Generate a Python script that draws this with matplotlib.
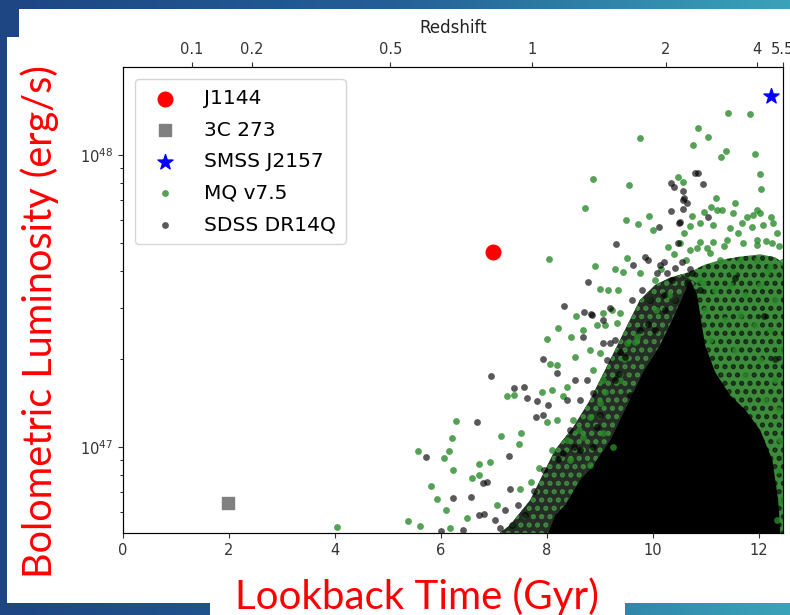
import numpy as np
import matplotlib.pyplot as plt
from matplotlib.colors import LinearSegmentedColormap
from matplotlib.patches import Rectangle

# single objects: (lookback time [Gyr], log10 L_bol [erg/s])
j1144 = (6.98, 47.668)
c273 = (1.98, 46.808)
smss = (12.23, 48.202)

# MQ v7.5, scattered points
mq_t = [4.04, 5.38, 5.60, 5.57, 5.81, 5.92, 6.09, 6.17, 6.06, 6.15,
        6.21, 6.28, 6.23, 6.49, 6.58, 6.72, 6.72, 6.92, 7.13, 7.47,
        7.51, 7.25, 7.38, 7.91, 8.09, 8.30, 8.00, 8.19, 8.06, 8.19,
        8.00, 8.21, 8.45, 8.04, 8.55, 9.06, 9.23, 9.38, 8.68, 8.94,
        8.53, 8.81, 9.00, 8.38, 8.87, 9.06, 9.38, 8.49, 9.00, 8.81,
        8.38, 8.68, 9.06, 8.43, 8.81, 9.25, 11.42, 11.83, 10.85, 11.04,
        9.75, 10.75, 11.38, 11.28, 11.92, 8.87, 9.55, 12.02, 12.04, 8.72,
        10.47, 10.57, 11.19, 9.92, 9.49, 9.72, 10.00, 10.74, 10.96, 11.09,
        11.30, 11.55, 11.51, 11.89, 12.02, 12.23, 10.58, 10.70, 10.89, 11.13,
        11.45, 11.68, 11.87, 12.08, 12.26, 8.91, 9.28, 9.43, 9.00, 9.34,
        10.28, 10.89, 11.13, 11.40, 11.60, 11.96, 12.25, 12.43, 10.83, 11.08,
        11.26, 11.64, 11.96, 12.21, 9.51, 9.75, 10.04, 10.51, 10.70, 11.21,
        11.77, 11.96, 11.96, 12.34, 9.15, 9.09, 9.32, 9.51, 9.70, 10.89,
        11.17, 11.45, 11.74, 12.02, 12.30, 10.98, 11.36, 11.64, 11.92, 12.21,
        12.40, 11.08, 11.55, 12.02, 12.30, 11.74, 12.36, 12.11, 12.40, 12.36,
        12.42, 12.34, 7.06, 7.49, 10.15, 10.40, 10.62, 11.02, 11.33, 11.70,
        12.13, 12.38, 10.30, 10.95, 11.50, 12.15, 7.70, 7.85, 8.10, 8.60,
        9.10, 9.45, 9.65, 10.05]
mq_logL = [46.727, 46.747, 46.729, 46.986, 46.866, 46.822, 46.784, 46.723, 46.962, 46.986,
           47.031, 47.089, 46.921, 46.757, 46.894, 46.904, 46.942, 46.949, 47.038, 47.010,
           47.048, 47.175, 47.178, 47.188, 47.195, 47.175, 47.086, 47.092, 47.284, 47.281,
           47.370, 47.408, 47.377, 47.644, 47.449, 47.459, 47.469, 47.459, 47.401, 47.418,
           47.308, 47.332, 47.322, 47.205, 47.264, 47.229, 47.229, 47.092, 47.151, 47.103,
           47.024, 47.034, 47.048, 46.955, 46.938, 47.000, 48.144, 48.140, 48.092, 48.062,
           48.058, 48.034, 48.014, 47.993, 48.003, 47.918, 47.897, 47.935, 47.884, 47.818,
           47.925, 47.908, 47.853, 47.791, 47.777, 47.764, 47.743, 47.791, 47.805, 47.822,
           47.812, 47.836, 47.801, 47.794, 47.801, 47.788, 47.733, 47.757, 47.767, 47.760,
           47.750, 47.767, 47.753, 47.760, 47.767, 47.620, 47.610, 47.599, 47.541, 47.538,
           47.685, 47.702, 47.702, 47.709, 47.733, 47.692, 47.699, 47.634, 47.682, 47.664,
           47.640, 47.640, 47.640, 47.616, 47.647, 47.596, 47.572, 47.699, 47.675, 47.812,
           47.788, 47.812, 47.709, 47.733, 47.538, 47.418, 47.425, 47.356, 47.377, 47.572,
           47.538, 47.555, 47.521, 47.555, 47.503, 47.469, 47.435, 47.452, 47.418, 47.401,
           47.332, 47.366, 47.332, 47.298, 47.229, 47.247, 47.127, 47.161, 47.024, 46.921,
           46.818, 46.750, 46.801, 46.856, 47.610, 47.660, 47.640, 47.680, 47.690, 47.700,
           47.705, 47.690, 47.520, 47.560, 47.600, 47.600, 46.880, 46.930, 46.990, 47.060,
           47.190, 47.300, 47.360, 47.470]

# SDSS DR14Q, scattered points
sdss_t = [8.32, 7.92, 8.19, 6.94, 7.38, 7.57, 7.62, 7.81, 8.02, 6.68,
          5.72, 7.79, 7.92, 7.28, 6.79, 6.87, 6.23, 6.57, 6.72, 6.81,
          6.42, 6.00, 10.79, 10.85, 10.34, 10.40, 10.57, 10.58, 10.64, 10.94,
          10.34, 10.57, 11.04, 10.11, 10.49, 9.30, 8.77, 9.85, 9.91, 10.21,
          10.13, 10.47, 10.55, 10.26, 10.42, 10.74, 10.64, 10.89, 8.70, 8.83,
          9.06, 8.68, 9.06, 9.19, 9.13, 9.38, 8.53, 8.75, 8.38, 8.62,
          8.87, 8.43, 8.94, 8.30, 8.62, 8.87, 10.57, 10.51, 9.62, 9.19,
          8.85, 9.60, 9.79, 9.28, 10.08, 10.36, 9.94, 10.23, 10.04, 10.42,
          9.75, 9.47, 9.28, 9.57, 7.02, 7.11, 7.21, 7.34, 7.45, 7.58,
          7.30, 7.75, 7.95, 8.20, 8.50, 9.00, 9.35, 9.90, 10.20, 10.70,
          11.55, 12.10, 12.30]
sdss_logL = [47.483, 47.301, 47.253, 47.243, 47.202, 47.205, 47.168, 47.157, 47.144, 47.086,
             46.966, 47.103, 47.110, 46.969, 46.877, 46.880, 46.825, 46.829, 46.767, 46.771,
             46.716, 46.713, 47.938, 47.938, 47.904, 47.890, 47.877, 47.853, 47.836, 47.901,
             47.808, 47.815, 47.788, 47.753, 47.767, 47.695, 47.565, 47.651, 47.640, 47.634,
             47.623, 47.699, 47.634, 47.596, 47.613, 47.596, 47.562, 47.538, 47.462, 47.455,
             47.435, 47.377, 47.356, 47.356, 47.298, 47.325, 47.229, 47.229, 47.161, 47.161,
             47.185, 47.058, 47.068, 46.979, 46.990, 47.000, 47.846, 47.771, 47.623, 47.476,
             47.452, 47.503, 47.538, 47.366, 47.596, 47.572, 47.503, 47.469, 47.401, 47.503,
             47.401, 47.308, 47.229, 47.178, 46.750, 46.723, 46.784, 46.733, 46.801, 46.767,
             46.856, 46.850, 46.920, 46.960, 47.000, 47.110, 47.250, 47.420, 47.520, 47.610,
             47.580, 47.450, 47.300]

# outline of the crowded region (mixed MQ + SDSS), of its darker left part,
# and of the saturated black core
halo_t = [7.11, 7.30, 7.68, 8.15, 8.50, 8.81, 9.19, 9.47, 9.75, 10.04,
          10.32, 10.70, 10.98, 11.26, 11.64, 12.02, 12.30, 12.45, 12.45]
halo_logL = [46.706, 46.733, 46.818, 46.990, 47.070, 47.161, 47.298, 47.401, 47.503, 47.555,
             47.580, 47.600, 47.625, 47.640, 47.652, 47.660, 47.650, 47.630, 46.706]
mix_t = [7.11, 7.30, 7.68, 8.15, 8.50, 8.81, 9.19, 9.47, 9.75, 10.04,
         10.32, 10.55, 10.83, 10.57, 10.36, 10.13, 9.81, 9.51, 9.19, 8.87,
         8.62, 8.34, 8.15, 8.02]
mix_logL = [46.706, 46.733, 46.818, 46.990, 47.070, 47.161, 47.298, 47.401, 47.503, 47.555,
            47.580, 47.590, 47.560, 47.521, 47.435, 47.349, 47.257, 47.144, 47.024, 46.938,
            46.887, 46.801, 46.767, 46.706]
core_t = [8.02, 8.15, 8.34, 8.62, 8.87, 9.19, 9.51, 9.81, 10.13, 10.36,
          10.57, 10.70, 10.83, 10.98, 11.17, 11.45, 11.74, 12.02, 12.25, 12.36, 12.40]
core_logL = [46.706, 46.767, 46.801, 46.887, 46.938, 47.024, 47.144, 47.257, 47.349, 47.435,
             47.521, 47.572, 47.521, 47.349, 47.257, 47.178, 47.127, 47.058, 46.955, 46.818, 46.706]

z_ticks = [0.1, 0.2, 0.5, 1, 2, 4, 5.5]
z_labels = ['0.1', '0.2', '0.5', '1', '2', '4', '5.5']


def lookback(z, H0=70.0, om=0.3):
    # flat LCDM lookback time in Gyr
    zz = np.linspace(0, z, 2000)
    f = 1.0 / ((1 + zz) * np.sqrt(om * (1 + zz) ** 3 + 1 - om))
    return 977.8 / H0 * np.trapezoid(f, zz)


plt.rcParams['hatch.linewidth'] = 2.5
fig = plt.figure(figsize=(7.9, 6.15), dpi=100)

# slide background
bg = fig.add_axes([0, 0, 1, 1])
bg.axis('off')
cmap = LinearSegmentedColormap.from_list('slide', ['#1d4683', '#245f96', '#3aa3b9'])
grad = np.linspace(0, 1, 256).reshape(1, -1)
bg.imshow(grad, cmap=cmap, extent=[0, 1, 0, 1], aspect='auto')
bg.set_xlim(0, 1)
bg.set_ylim(0, 1)
W, H = 790.0, 615.0
bg.add_patch(Rectangle((7 / W, 12 / H), 1, 1 - 49 / H, color='white', lw=0))
bg.add_patch(Rectangle((19 / W, 1 - 37 / H), 1, 28 / H, color='white', lw=0))
bg.add_patch(Rectangle((210 / W, 0), 415 / W, 30 / H, color='white', lw=0))

ax = fig.add_axes([123 / W, 82 / H, 660 / W, 466 / H])
ax.fill(halo_t, 10 ** np.array(halo_logL), facecolor='#3c8c3c', edgecolor='#152b15',
        hatch='..', lw=0, zorder=1)
ax.fill(mix_t, 10 ** np.array(mix_logL), facecolor='#262c26', edgecolor='#3f8a3f',
        hatch='..', lw=0, zorder=1.5)
ax.fill(core_t, 10 ** np.array(core_logL), color='black', lw=0, zorder=2)
ax.scatter(mq_t, 10 ** np.array(mq_logL), s=24, c='#2a8a2a', alpha=0.8, lw=0, zorder=3,
           label='MQ v7.5')
ax.scatter(sdss_t, 10 ** np.array(sdss_logL), s=24, c='black', alpha=0.65, lw=0, zorder=3,
           label='SDSS DR14Q')
ax.scatter(j1144[0], 10 ** j1144[1], s=110, c='red', marker='o', zorder=5, label='J1144')
ax.scatter(c273[0], 10 ** c273[1], s=80, c='gray', marker='s', zorder=5, label='3C 273')
ax.scatter(smss[0], 10 ** smss[1], s=130, c='blue', marker='*', zorder=5, label='SMSS J2157')

ax.set_yscale('log')
ax.set_xlim(0, 12.45)
ax.set_ylim(10 ** 46.706, 10 ** 48.301)
ax.set_xticks(range(0, 13, 2))
ax.tick_params(labelsize=10.5, colors='#333333')
for sp in ax.spines.values():
    sp.set_color('#444444')

handles, labels = ax.get_legend_handles_labels()
order = [labels.index(n) for n in ['J1144', '3C 273', 'SMSS J2157', 'MQ v7.5', 'SDSS DR14Q']]
ax.legend([handles[i] for i in order], [labels[i] for i in order], loc='upper left',
          fontsize=14.5, labelspacing=0.62, borderpad=0.5, handletextpad=0.9,
          handlelength=2.0, borderaxespad=0.6)

ax2 = ax.twiny()
ax2.set_xlim(ax.get_xlim())
ax2.set_xticks([lookback(z) for z in z_ticks])
ax2.set_xticklabels(z_labels)
ax2.tick_params(labelsize=10.5, colors='#333333')
ax2.set_xlabel('Redshift', fontsize=12, color='#222222', labelpad=7)

fig.text(40 / W, 1 - 322 / H, 'Bolometric Luminosity (erg/s)', rotation=90, color='red',
         fontsize=28.5, ha='center', va='center', family='Lato')
fig.text(417 / W, 18 / H, 'Lookback Time (Gyr)', color='red', fontsize=29,
         ha='center', va='center', family='Lato')

fig.savefig('out.png', dpi=100)
